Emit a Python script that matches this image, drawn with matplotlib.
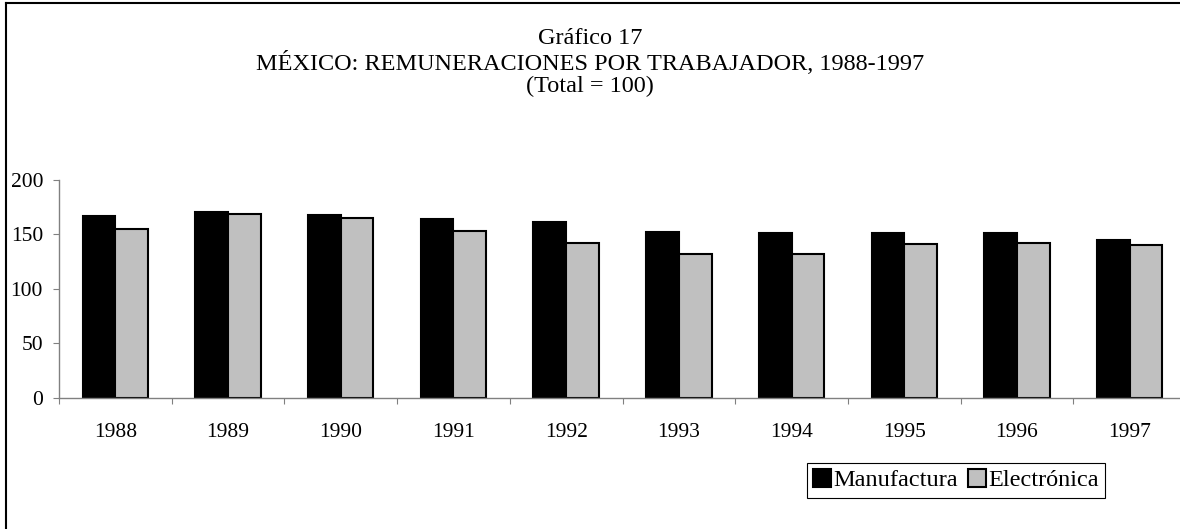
import matplotlib
matplotlib.use("Agg")
import matplotlib.pyplot as plt
import numpy as np
from matplotlib.lines import Line2D

years = ["1988", "1989", "1990", "1991", "1992", "1993", "1994", "1995", "1996", "1997"]
manufactura = [167, 171, 168, 164, 161, 152, 151, 151, 151, 145]
electronica = [155, 169, 165, 153, 142, 132, 132, 141, 142, 140]

plt.rcParams['font.family'] = ['Liberation Serif', 'DejaVu Serif']
plt.rcParams['font.size'] = 15.5

W, H = 1180, 529
fig = plt.figure(figsize=(W / 100, H / 100), dpi=100)

# axes placed by pixel position of the reference
ax = fig.add_axes([59 / W, 1 - 397.7 / H, (1186 - 59) / W, (397.7 - 180) / H])

x = np.arange(len(years))
bw = 0.29
ax.bar(x - bw / 2, manufactura, bw, color='black', edgecolor='black', linewidth=1.5,
       label='Manufactura')
ax.bar(x + bw / 2, electronica, bw, color='#c0c0c0', edgecolor='black', linewidth=1.5,
       label='Electrónica')

ax.set_xlim(-0.5, len(years) - 0.5)
ax.set_ylim(0, 200)
ax.set_yticks([0, 50, 100, 150, 200])
ax.tick_params(axis='y', length=4.5, pad=7, colors='black', width=0.8)

# ticks on category borders, labels centered
ax.set_xticks(np.arange(len(years) + 1) - 0.5)
ax.set_xticklabels([])
ax.set_xticks(x, minor=True)
ax.set_xticklabels(years, minor=True)
ax.tick_params(axis='x', which='major', length=4.5, width=0.8)
ax.tick_params(axis='x', which='minor', length=0, pad=18.5)

for s in ['top', 'right']:
    ax.spines[s].set_visible(False)
for s in ['left', 'bottom']:
    ax.spines[s].set_color('#808080')
    ax.spines[s].set_linewidth(1.0)
ax.tick_params(axis='both', which='major', color='#808080')

title_size = 17.5
fig.text(590 / W, 1 - 38.5 / H, "Gráfico 17", ha='center', va='center', fontsize=title_size)
fig.text(590 / W, 1 - 62.5 / H, "MÉXICO: REMUNERACIONES POR TRABAJADOR, 1988-1997",
         ha='center', va='center', fontsize=title_size)
fig.text(590 / W, 1 - 86.5 / H, "(Total = 100)", ha='center', va='center', fontsize=title_size)

leg = fig.legend(loc='upper left', bbox_to_anchor=(807 / W, 1 - 463 / H), ncol=2,
                 frameon=True, fancybox=False, edgecolor='black', framealpha=1,
                 handlelength=0.75, handleheight=0.75, handletextpad=0.1,
                 columnspacing=0.4, borderpad=0.25, borderaxespad=0, fontsize=17.5)
leg.get_frame().set_linewidth(0.8)

# outer frame (only top and left edges show)
fig.add_artist(Line2D([6 / W, 6 / W], [0, 1 - 3 / H], color='black', linewidth=1.5))
fig.add_artist(Line2D([6 / W, 1], [1 - 3 / H, 1 - 3 / H], color='black', linewidth=1.5))

fig.savefig("out.png", dpi=100)
